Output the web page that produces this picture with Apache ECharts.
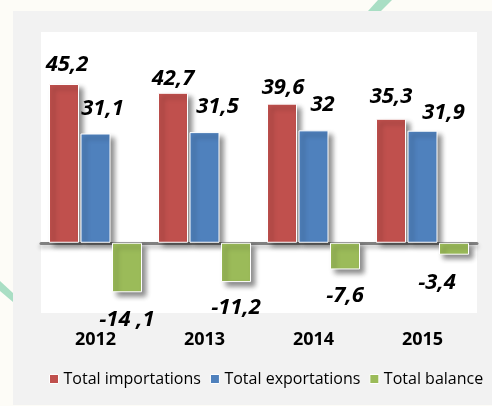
<!DOCTYPE html>
<html>
<head>
<meta charset="utf-8">
<script src="https://cdn.jsdelivr.net/npm/echarts@6/dist/echarts.min.js"></script>
<style>html,body{margin:0;padding:0;background:#fdfcf7;}#c{width:492px;height:406px;}</style>
</head>
<body>
<div id="c"></div>
<script>
const years = ['2012', '2013', '2014', '2015'];
const importations = [45.2, 42.7, 39.6, 35.3];
const exportations = [31.1, 31.5, 32, 31.9];
const balance = [-14.1, -11.2, -7.6, -3.4];
const balanceLabels = ['-14 ,1', '-11,2', '-7,6', '-3,4'];
const seriesNames = ['Total importations', 'Total exportations', 'Total balance'];

// label shifts (px) as placed in the original
const shiftImp = [[3, -8], [0, -3], [1, -5], [0, -11]];
const shiftExp = [[7, -14], [13, -14], [9, -15], [21, -7]];
const shiftBal = [[0, 16], [0, 15], [0, 15], [-17, 17]];

const fmt = v => String(v).replace('.', ',');
const FONT = '"Open Sans", "Noto Sans", sans-serif';

function itemsWith(values, shifts, texts) {
  return values.map((v, i) => ({
    value: v,
    label: { offset: shifts[i], formatter: texts ? texts[i] : fmt(v) }
  }));
}

const barStyle = color => ({
  color: color,
  borderColor: '#ffffff',
  borderWidth: 1,
  shadowColor: 'rgba(0,0,0,0.45)',
  shadowBlur: 5,
  shadowOffsetX: 4,
  shadowOffsetY: 4
});
const labelStyle = pos => ({
  show: true,
  position: pos,
  distance: 0,
  fontFamily: FONT,
  fontWeight: 'bold',
  fontStyle: 'italic',
  fontSize: 22,
  color: '#000'
});

const chart = echarts.init(document.getElementById('c'), null, { renderer: 'canvas' });
chart.setOption({
  backgroundColor: '#fdfcf7',
  animation: false,
  graphic: [
    { type: 'polygon', z: -100, shape: { points: [[378, 0], [392, 0], [381, 11], [368, 11]] }, style: { fill: '#a9dec4' } },
    { type: 'polygon', z: -100, shape: { points: [[0, 281], [0, 291], [13, 302], [13, 293]] }, style: { fill: '#a9dec4' } },
    { type: 'rect', z: -99, shape: { x: 13, y: 11, width: 479, height: 394 }, style: { fill: '#f2f2f2' } },
    { type: 'rect', z: -98, shape: { x: 41, y: 32, width: 436, height: 281 }, style: { fill: '#ffffff' } }
  ],
  grid: { left: 41, top: 32, width: 436, height: 281, containLabel: false },
  legend: {
    left: 44, top: 366,
    itemWidth: 9, itemHeight: 9, itemGap: 9,
    icon: 'rect',
    itemStyle: { shadowBlur: 0, shadowOffsetX: 0, shadowOffsetY: 0, borderColor: '#fff', borderWidth: 1 },
    textStyle: { fontFamily: FONT, fontSize: 16, color: '#000' },
    data: seriesNames
  },
  xAxis: [
    {
      type: 'category', data: years,
      axisLine: { onZero: true, lineStyle: { color: '#808080', width: 3, shadowColor: 'rgba(0,0,0,0.3)', shadowBlur: 4, shadowOffsetY: 3 } },
      axisTick: { show: false }, axisLabel: { show: false }, splitLine: { show: false }
    },
    {
      type: 'category', data: years, position: 'bottom',
      axisLine: { show: false, onZero: false }, axisTick: { show: false }, splitLine: { show: false },
      axisLabel: { margin: 18, fontFamily: FONT, fontWeight: 'bold', fontSize: 18, color: '#000' }
    }
  ],
  yAxis: { type: 'value', min: -20, max: 60, show: false, splitLine: { show: false } },
  series: [
    { name: seriesNames[0], type: 'bar', xAxisIndex: 0, barWidth: 30, barGap: '5%',
      itemStyle: barStyle('#C0504D'), label: labelStyle('top'), data: itemsWith(importations, shiftImp) },
    { name: seriesNames[1], type: 'bar', xAxisIndex: 0, barWidth: 30, barGap: '5%',
      itemStyle: barStyle('#4F81BD'), label: labelStyle('top'), data: itemsWith(exportations, shiftExp) },
    { name: seriesNames[2], type: 'bar', xAxisIndex: 0, barWidth: 30, barGap: '5%',
      itemStyle: barStyle('#9BBB59'), label: labelStyle('bottom'), data: itemsWith(balance, shiftBal, balanceLabels) }
  ]
});
</script>
</body>
</html>
